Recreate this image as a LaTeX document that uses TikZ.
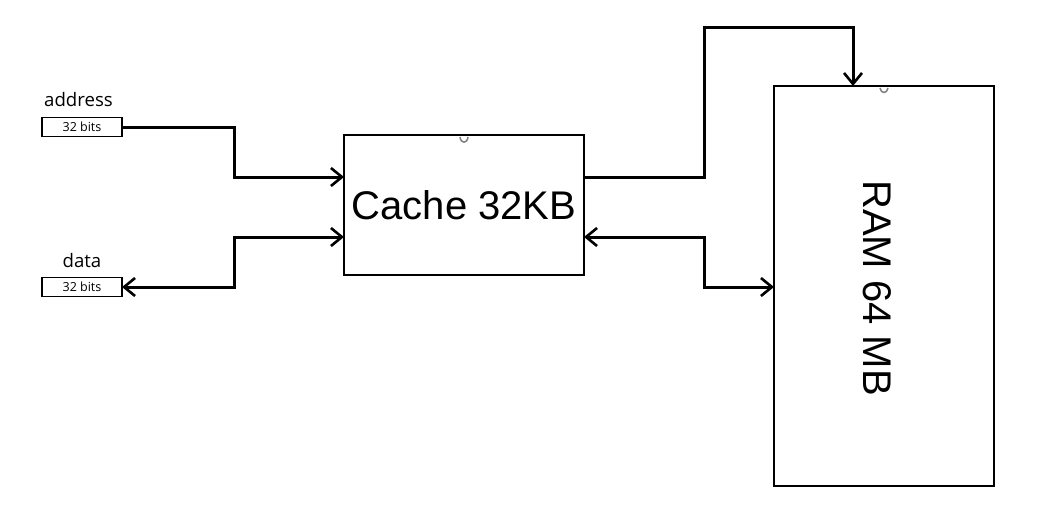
\documentclass[tikz,border=0pt]{standalone}
\usepackage{fontspec}
\setmainfont{Liberation Sans}
\newfontfamily\uifont{Open Sans}
\usetikzlibrary{arrows.meta}
\begin{document}
\begin{tikzpicture}[x=1pt,y=-1pt,
  box/.style={draw, line width=2.3pt, inner sep=0pt, outer sep=0pt},
  smallbox/.style={draw, line width=1.8pt, inner sep=0pt, outer sep=0pt, minimum width=80pt, minimum height=19pt, font=\uifont\fontsize{12.5}{14}\selectfont},
  lbl/.style={font=\uifont\fontsize{18.6}{20}\selectfont, inner sep=0pt},
  wire/.style={line width=3pt, line join=miter},
  onetip/.style={arrows={-{Straight Barb[length=11pt,width=18pt,line width=2.6pt]}}},
  twotips/.style={arrows={{Straight Barb[length=11pt,width=18pt,line width=2.6pt]}-{Straight Barb[length=11pt,width=18pt,line width=2.6pt]}}},
  handlemark/.style={draw=gray, line width=1.5pt}
]
\useasboundingbox (0,0) rectangle (1042,509);
\fill[white] (0,0) rectangle (1042,509);

\node[box, minimum width=240pt, minimum height=140pt, font=\fontsize{40}{44}\selectfont] (cache) at (464,205) {Cache 32KB};
\node[box, minimum width=220pt, minimum height=400pt] (ram) at (884,286) {};
\node[rotate=-90, font=\fontsize{40}{44}\selectfont, inner sep=0pt] (ramlbl) at (877,288) {RAM 64 MB};

\node[smallbox] (addr) at (82,127) {32 bits};
\node[smallbox] (data) at (82,287) {32 bits};
\node[lbl] (addrlbl) at (78.5,100) {address};
\node[lbl] (datalbl) at (82,261) {data};

\coordinate (ya) at (0,177);
\coordinate (yb) at (0,237);
\coordinate (yc) at (0,287);
\coordinate (top) at (0,27);
\coordinate (xl) at (234,0);
\coordinate (xr) at (704,0);
\coordinate (xt) at (853,0);

\draw[wire, onetip] (addr.east) -- (xl |- addr.east) -- (xl |- ya) -- (cache.west |- ya);
\draw[wire, twotips] (cache.west |- yb) -- (xl |- yb) -- (xl |- data.east) -- (data.east);
\draw[wire, onetip] (cache.east |- ya) -- (xr |- ya) -- (xr |- top) -- (xt |- top) -- (xt |- ram.north);
\draw[wire, twotips] (cache.east |- yb) -- (xr |- yb) -- (xr |- yc) -- (ram.west |- yc);

\draw[handlemark] (460,137) .. controls (461,144) and (467,144) .. (468,137);
\draw[handlemark] (880,88) .. controls (881,94) and (887,94) .. (888,88);
\end{tikzpicture}
\end{document}
